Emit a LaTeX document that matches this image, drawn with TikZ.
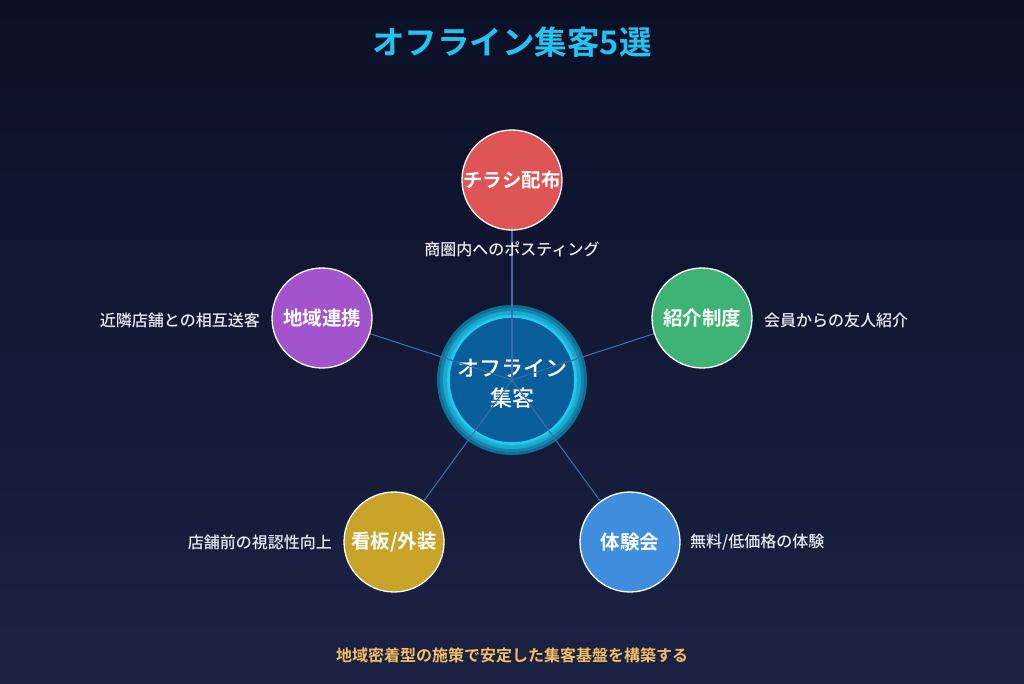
\documentclass[tikz,border=0pt]{standalone}
\usepackage{fontspec}
\setmainfont{Noto Sans CJK JP}[BoldFont={Noto Sans CJK JP Bold}]
\newfontfamily\jpmed{Noto Sans CJK JP Medium}
\usetikzlibrary{shadings}
\definecolor{bgtop}{HTML}{0B1026}
\definecolor{bgbot}{HTML}{1B2244}
\definecolor{titlec}{HTML}{22C3F0}
\definecolor{linkc}{HTML}{3D6CA6}
\definecolor{hubfill}{HTML}{0A5E9C}
\definecolor{hubring}{HTML}{1FCBF2}
\definecolor{glowA}{HTML}{1BA8CC}
\definecolor{glowB}{HTML}{0E6F95}
\definecolor{cRed}{HTML}{DF5454}
\definecolor{cPurple}{HTML}{A354CD}
\definecolor{cGreen}{HTML}{3EB375}
\definecolor{cGold}{HTML}{C9A228}
\definecolor{cBlue}{HTML}{3E8EDD}
\definecolor{labelc}{HTML}{E8EAF0}
\definecolor{footc}{HTML}{F2BE62}
\tikzset{
  spoke/.style={circle, minimum size=100pt, inner sep=0pt, draw=white, line width=1.3pt, text=white, font=\bfseries\fontsize{19.5}{22}\selectfont},
  desc/.style={text=labelc, font=\jpmed\fontsize{16}{19}\selectfont, inner sep=0pt},
  link/.style={draw=linkc, line width=1.1pt},
}
\begin{document}
\begin{tikzpicture}[x=1pt,y=-1pt]
\shade[top color=bgtop, bottom color=bgbot] (0,0) rectangle (1024,683);
\useasboundingbox (0,0) rectangle (1024,683);
% title
\node[text=titlec, font=\bfseries\fontsize{32.5}{36}\selectfont] (title) at (512,42) {オフライン集客5選};
% hub glow
\fill[glowB] (512,380) circle (75);
\fill[glowB!60!glowA] (512,380) circle (72);
\fill[glowA] (512,380) circle (69);
\fill[glowA!80!hubring] (512,380) circle (66.5);
\node[circle, minimum size=127pt, inner sep=0pt, fill=hubfill, draw=hubring, line width=2.6pt] (hubc) at (512,380) {};
\node[text=white, align=center, font=\jpmed\fontsize{22}{30}\selectfont] (hub) at (512,384) {オフライン\\集客};
% spokes
\coordinate (c) at (512,380);
\draw[link] (c) -- (512,180) coordinate (pt);
\draw[link] (c) -- (322,318) coordinate (pl);
\draw[link] (c) -- (702,318) coordinate (pr);
\draw[link] (c) -- (394,542) coordinate (pbl);
\draw[link] (c) -- (630,542) coordinate (pbr);
\node[spoke, fill=cRed] (n1) at (pt) {チラシ配布};
\node[spoke, fill=cPurple] (n2) at (pl) {地域連携};
\node[spoke, fill=cGreen] (n3) at (pr) {紹介制度};
\node[spoke, fill=cGold] (n4) at (pbl) {看板/外装};
\node[spoke, fill=cBlue] (n5) at (pbr) {体験会};
% descriptions
\node[desc] (d1) at (512,249) {商圏内へのポスティング};
\node[desc, anchor=east] (d2) at (260,320) {近隣店舗との相互送客};
\node[desc, anchor=west] (d3) at (764,320) {会員からの友人紹介};
\node[desc, anchor=east] (d4) at (332,542) {店舗前の視認性向上};
\node[desc, anchor=west] (d5) at (690,542) {無料/低価格の体験};
% footer
\node[text=footc, font=\bfseries\fontsize{16}{19}\selectfont] (foot) at (512,655) {地域密着型の施策で安定した集客基盤を構築する};
\end{tikzpicture}
\end{document}
